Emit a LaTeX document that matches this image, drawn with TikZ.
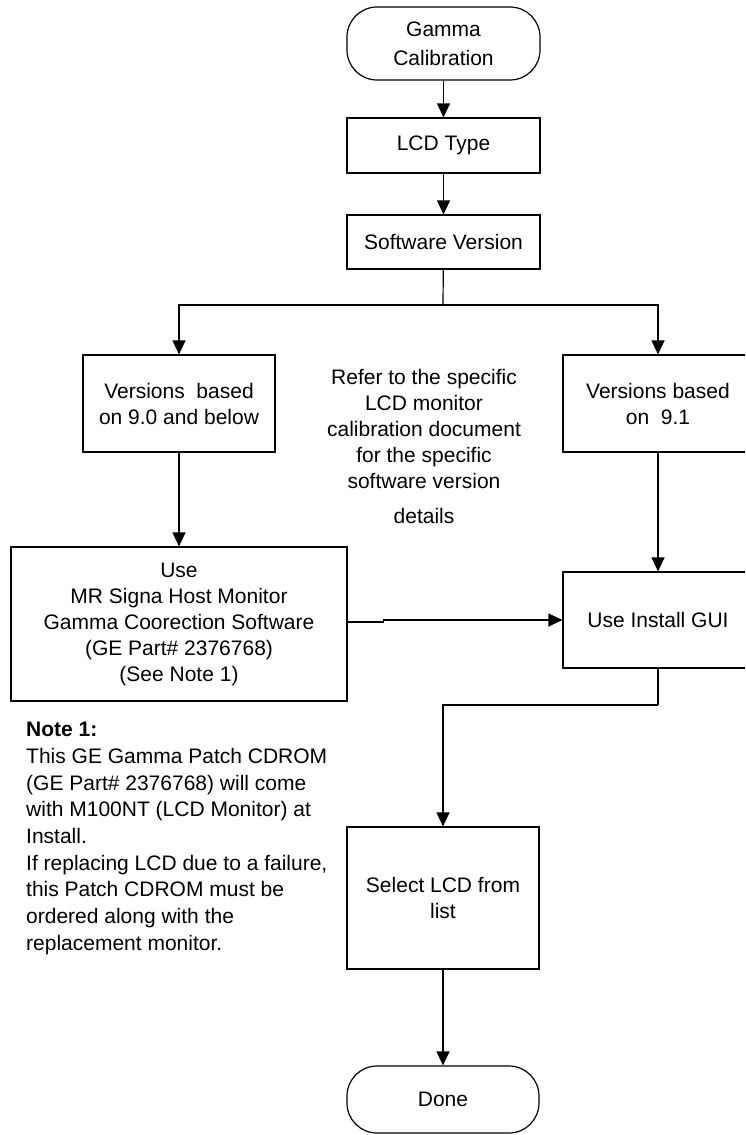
\documentclass[tikz,border=0pt]{standalone}
\usepackage{fontspec}
\setmainfont{Liberation Sans}
\usetikzlibrary{arrows.meta}
\tikzset{
    x=1pt, y=-1pt, % one unit is one pixel of the sheet, y runs downwards
    every node/.style={font=\fontsize{21}{26}\selectfont},
    box/.style={ % plain process step
        draw, line width=1.2pt, rectangle, align=center, inner sep=2pt
    },
    term/.style={box, rounded corners=30pt}, % start and end
    flow/.style={ % connectors with a filled head
        draw, line width=1.2pt, -{Triangle[length=14pt,width=13pt]}
    },
    wire/.style={draw, line width=1.2pt}
}
\begin{document}
\begin{tikzpicture}
        \useasboundingbox (0,0) rectangle (745,1135);
        \clip (0,0) rectangle (745,1135);
        % mittlere spalte
        \node[term, minimum width=193pt, minimum height=73pt] (gamma) at (443.5,43.5) {Gamma\\[3pt]Calibration};
        \node[box, minimum width=193pt, minimum height=55pt,
              below of=gamma, node distance=102pt]                 (lcd)   {LCD Type};
        \node[box, minimum width=193pt, minimum height=54pt,
              below of=lcd, node distance=96.5pt]                  (sw)    {Software Version};
        % zwei zweige
        \node[box, minimum width=192pt, minimum height=97pt] (v90) at (179,403.5) {Versions\ \ based\\on 9.0 and below};
        \node[box, minimum width=190pt, minimum height=97pt] (v91) at (658,403.5) {Versions based\\on\ \ 9.1};
        \node[align=center]                                  (refer) at (424,446)
            {Refer to the specific\\LCD monitor\\calibration document\\for the specific\\software version\\[9pt]details};
        \node[box, minimum width=336pt, minimum height=154pt] (mr)  at (179,624)
            {Use\\MR Signa Host Monitor\\Gamma Coorection Software\\(GE Part\# 2376768)\\(See Note 1)};
        \node[box, minimum width=190pt, minimum height=96pt]  (gui) at (658,620) {Use Install GUI};
        % notiz
        \node[align=left, anchor=west, inner sep=0pt,
              font=\fontsize{21}{26.7}\selectfont]           (note) at (26,838.5)
            {\textbf{Note 1:}\\This GE Gamma Patch CDROM\\(GE Part\# 2376768) will come\\with M100NT (LCD Monitor) at\\Install.\\If replacing LCD due to a failure,\\this Patch CDROM must be\\ordered along with the\\replacement monitor.};
        % untere spalte
        \node[box, minimum width=192pt, minimum height=142pt] (sel) at (443,898) {Select LCD from\\list};
        \node[term, minimum width=192pt, minimum height=67pt,
              below of=sel, node distance=201.5pt]                 (done)  {Done};

        \coordinate (split) at (443,305);
        \coordinate (drop)  at (658,705);

        \path[flow] (gamma) -- (lcd);
        \path[flow] (lcd)   -- (sw);
        \path[wire] (sw)    -- (split);
        \path[flow] (split) -| (v90);
        \path[flow] (split) -| (v91);
        \path[flow] (v90)   -- (mr);
        \path[flow] (v91)   -- (gui);
        \path[flow] ([yshift=2pt]mr.east) -- ++(36,0) |- (gui.west);
        \path[wire] (gui)   -- (drop);
        \path[flow] (drop)  -| (sel);
        \path[flow] (sel)   -- (done);
    \end{tikzpicture}
\end{document}
